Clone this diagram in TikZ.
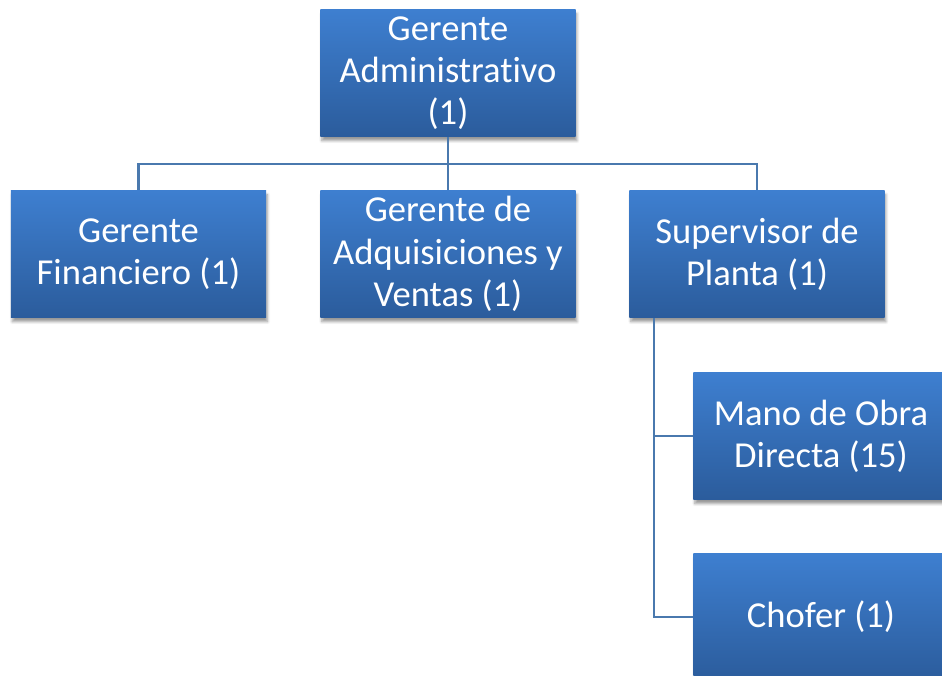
\documentclass[tikz,border=0pt]{standalone}
\usepackage{fontspec}
\setmainfont{Carlito}[Ligatures={NoCommon}]
\usetikzlibrary{shadows.blur}

\definecolor{boxtop}{HTML}{3E7FD0}
\definecolor{boxbot}{HTML}{2B5C9C}
\definecolor{linkc}{HTML}{4A79AE}

\tikzset{
	cargo/.style={rectangle, top color=boxtop, bottom color=boxbot,
		minimum width=6.375cm, minimum height=3.175cm, inner sep=0pt,
		align=center, text=white,
		font=\fontsize{26}{30}\selectfont,
		blur shadow={shadow xshift=1pt, shadow yshift=-3pt, shadow blur steps=6, shadow opacity=40}},
	link/.style={draw=linkc, line width=1.7pt}
}

\begin{document}
\begin{tikzpicture}[x=0.025cm, y=-0.025cm]
		\useasboundingbox (0, 0) rectangle (942, 676);

		\node[cargo] (adm) at (448, 73) {Gerente\\Administrativo\\(1)};

		\node[cargo] (fin) at (138.5, 254) {Gerente\\Financiero (1)};
		\node[cargo] (adq) at (448, 254) {Gerente de\\Adquisiciones y\\Ventas (1)};
		\node[cargo] (sup) at (757, 254) {Supervisor de\\Planta (1)};

		\node[cargo] (mano) at (821, 436) {Mano de Obra\\Directa (15)};
		\node[cargo] (chofer) at (821, 617) {Chofer (1)};

		\foreach \n in {fin, adq, sup}{
				\draw[link] (adm.south) -- ++(0, 27) -| (\n.north);
			}

		\foreach \n in {mano, chofer}{
				\draw[link] ([xshift=0.625cm]sup.south west) |- (\n.west);
			}
	\end{tikzpicture}
\end{document}
